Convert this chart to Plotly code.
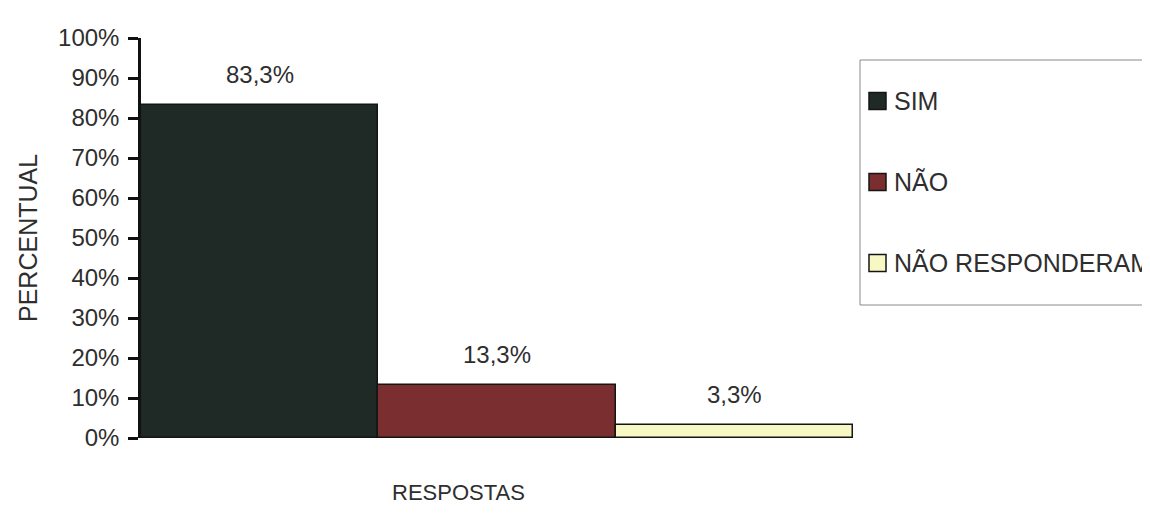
import plotly.graph_objects as go

categories = ["SIM", "NÃO", "NÃO RESPONDERAM"]
values = [83.3, 13.3, 3.3]
colors = ["#1f2a27", "#7a2e30", "#f8f8c4"]
y_ticks = list(range(0, 101, 10))
y_tick_labels = [f"{t}%" for t in y_ticks]

FONT = "Liberation Sans, Arial, sans-serif"
TXT = "#2e2e2e"

W, H = 1150, 522
L, R, T, B = 133, 305, 30, 92
PW, PH = W - L - R, H - T - B


def px_x(px):
    return (px - L) / PW


def px_y(py):
    return (H - B - py) / PH


fig = go.Figure()
for cat, val, col in zip(categories, values, colors):
    fig.add_trace(go.Bar(
        x=[cat], y=[val], name=cat, width=1.0,
        marker=dict(color=col, line=dict(color="#151515", width=1.5)),
        hoverinfo="skip", showlegend=False,
    ))
    fig.add_annotation(
        x=cat, y=val, xref="x", yref="y",
        text=f"{val:.1f}".replace(".", ",") + "%",
        showarrow=False, yanchor="bottom", yshift=15,
        font=dict(family=FONT, size=24, color=TXT),
    )

# axis titles
fig.add_annotation(
    x=px_x(20), y=px_y(230), xref="paper", yref="paper", text="PERCENTUAL",
    textangle=-90, showarrow=False, xanchor="center", yanchor="middle",
    font=dict(family=FONT, size=25, color=TXT),
)
fig.add_annotation(
    x=px_x(450), y=px_y(484), xref="paper", yref="paper", text="RESPOSTAS",
    showarrow=False, xanchor="center", yanchor="middle",
    font=dict(family=FONT, size=22, color=TXT),
)

# legend box
fig.add_shape(type="rect", xref="paper", yref="paper",
              x0=px_x(852), x1=px_x(1200), y0=px_y(297), y1=px_y(52),
              line=dict(color="#8a8a8a", width=1), fillcolor="rgba(0,0,0,0)")
legend_rows = [93, 174, 255]
for cat, col, cy in zip(categories, colors, legend_rows):
    fig.add_shape(type="rect", xref="paper", yref="paper",
                  x0=px_x(861), x1=px_x(878), y0=px_y(cy + 8.5), y1=px_y(cy - 8.5),
                  line=dict(color="#151515", width=1.5), fillcolor=col)
    fig.add_annotation(
        x=px_x(884), y=px_y(cy), xref="paper", yref="paper", text=cat,
        showarrow=False, xanchor="left", yanchor="middle",
        font=dict(family=FONT, size=25, color=TXT),
    )

fig.update_layout(
    width=W, height=H,
    margin=dict(l=L, r=R, t=T, b=B, autoexpand=False),
    paper_bgcolor="white", plot_bgcolor="white",
    barmode="overlay", bargap=0,
    showlegend=False,
    font=dict(family=FONT, size=24, color=TXT),
    xaxis=dict(
        categoryorder="array", categoryarray=categories,
        range=[-0.5, 2.5], showticklabels=False, showgrid=False,
        zeroline=False, showline=False, ticks="",
    ),
    yaxis=dict(
        range=[0, 100], tickvals=y_ticks, ticktext=y_tick_labels,
        showgrid=False, zeroline=False, showline=True,
        linecolor="#111111", linewidth=2.5,
        ticks="outside", ticklen=10, tickwidth=2.5, tickcolor="#111111",
        ticklabelstandoff=4,
        tickfont=dict(family=FONT, size=24, color=TXT),
    ),
)

fig.write_html("out.html")
